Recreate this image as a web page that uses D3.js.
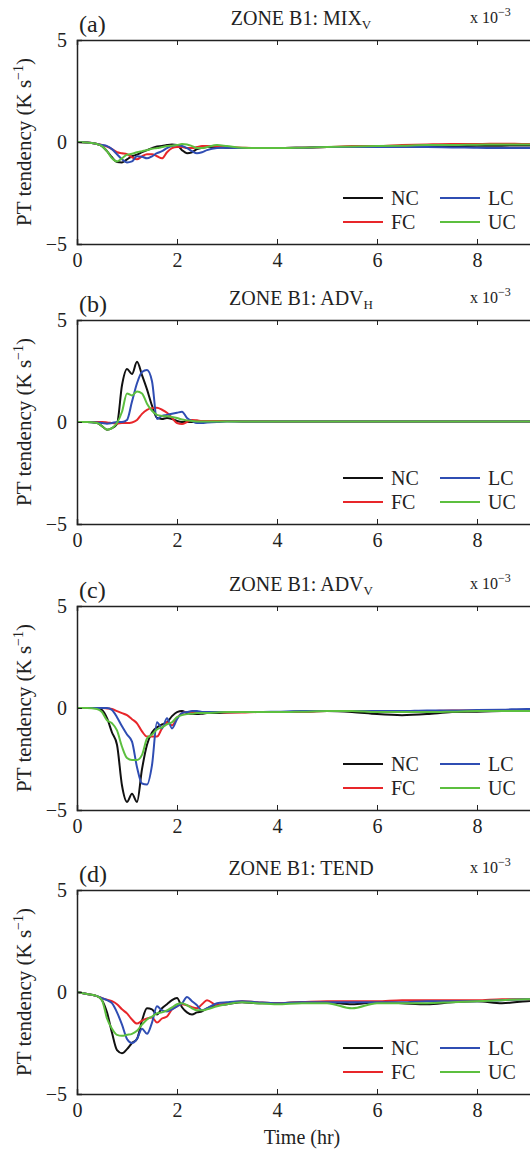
<!DOCTYPE html>
<html lang="en">

<head>
    <meta charset="UTF-8" />
    <script type="text/javascript" src="https://cdn.jsdelivr.net/npm/d3@7"></script>
    <title>Zone B1 PT tendency</title>
    <style>
        body { margin: 0; overflow: hidden; background: #fff; }
        text { font-family: "Liberation Serif", "Times New Roman", serif; fill: #222; }
    </style>
</head>

<body>
    <div id="my_dataviz"></div>

    <script type="text/javascript">
        // time axis (hr), shared by all panels
        var hours = [0, 0.2, 0.4, 0.5, 0.6, 0.7, 0.8, 0.9, 1.0, 1.1, 1.2, 1.3, 1.4, 1.5, 1.6, 1.7, 1.8, 1.9, 2.0, 2.1,
            2.2, 2.3, 2.4, 2.5, 2.6, 2.8, 3.0, 3.3, 3.6, 4.0, 4.5, 5.0, 5.5, 6.0, 6.5, 7.0, 7.5, 8.0, 8.5, 9.0, 9.5, 10];

        var seriesNames = ["NC", "FC", "LC", "UC"];
        var panelLetters = ["(a)", "(b)", "(c)", "(d)"];
        var panelTitles = ["MIX", "ADV", "ADV", "TEND"];
        var panelSubs = ["V", "H", "V", ""];
        var xTicks = [0, 2, 4, 6, 8, 10];
        var xTickLabels = [0, 2, 4, 6, 8];
        var yTicks = [-5, 0, 5];

        // values in units of 1e-3 K s-1
        var mixNC = [0, -0.03, -0.1, -0.2, -0.45, -0.75, -0.98, -1.0, -0.85, -0.7, -0.62, -0.5, -0.4, -0.3, -0.22, -0.2, -0.15, -0.12, -0.15, -0.4,
            -0.55, -0.5, -0.35, -0.28, -0.25, -0.25, -0.28, -0.3, -0.3, -0.3, -0.28, -0.25, -0.25, -0.25, -0.22, -0.2, -0.2, -0.18, -0.18, -0.17, -0.17, -0.17];
        var mixFC = [0, -0.03, -0.1, -0.15, -0.22, -0.35, -0.5, -0.55, -0.6, -0.75, -0.85, -0.7, -0.6, -0.6, -0.7, -0.8, -0.5, -0.3, -0.25, -0.25,
            -0.3, -0.3, -0.25, -0.2, -0.2, -0.22, -0.25, -0.28, -0.3, -0.3, -0.28, -0.25, -0.2, -0.2, -0.15, -0.12, -0.1, -0.1, -0.08, -0.1, -0.1, -0.1];
        var mixLC = [0, -0.03, -0.1, -0.15, -0.2, -0.35, -0.6, -0.85, -1.0, -0.95, -0.7, -0.72, -0.8, -0.7, -0.55, -0.45, -0.3, -0.2, -0.15, -0.2,
            -0.3, -0.45, -0.55, -0.5, -0.4, -0.3, -0.28, -0.3, -0.3, -0.3, -0.28, -0.25, -0.25, -0.25, -0.25, -0.25, -0.27, -0.28, -0.3, -0.3, -0.3, -0.3];
        var mixUC = [0, -0.03, -0.1, -0.2, -0.45, -0.8, -0.95, -0.8, -0.62, -0.58, -0.5, -0.45, -0.4, -0.33, -0.3, -0.25, -0.2, -0.18, -0.15, -0.1,
            -0.12, -0.2, -0.3, -0.3, -0.25, -0.15, -0.2, -0.28, -0.3, -0.3, -0.28, -0.25, -0.22, -0.2, -0.18, -0.15, -0.15, -0.13, -0.12, -0.12, -0.12, -0.12];

        var advhNC = [0, 0, -0.05, -0.2, -0.38, -0.3, -0.1, 1.8, 2.6, 2.35, 2.95, 2.3, 1.6, 0.8, 0.2, 0.15, 0.2, 0.15, 0.05, 0,
            0, 0, 0.05, 0.05, 0.05, 0.05, 0.05, 0.03, 0.02, 0.02, 0.02, 0.02, 0.02, 0.02, 0.02, 0.02, 0.02, 0.02, 0.02, 0.02, 0.02, 0.02];
        var advhFC = [0, 0, 0, 0, -0.02, -0.05, -0.08, -0.05, -0.05, -0.02, 0.1, 0.4, 0.6, 0.68, 0.7, 0.6, 0.45, 0.2, -0.05, -0.1,
            0, 0.1, 0.08, 0.05, 0.05, 0.05, 0.05, 0.04, 0.04, 0.03, 0.03, 0.03, 0.03, 0.03, 0.03, 0.03, 0.03, 0.03, 0.03, 0.03, 0.03, 0.03];
        var advhLC = [0, 0, -0.02, -0.05, -0.08, -0.05, 0, 0, 0.1, 1.0, 1.9, 2.45, 2.55, 2.0, 0.15, 0.3, 0.35, 0.4, 0.45, 0.5,
            0.2, 0.05, -0.05, -0.05, -0.03, 0, 0.02, 0.02, 0.02, 0.02, 0.02, 0.02, 0.02, 0.02, 0.02, 0.02, 0.02, 0.02, 0.02, 0.02, 0.02, 0.02];
        var advhUC = [0, 0, -0.05, -0.2, -0.38, -0.3, -0.05, 0.5, 1.4, 1.3, 1.5, 1.4, 0.9, 0.55, 0.35, 0.3, 0.28, 0.25, 0.2, 0.12,
            0.08, 0.05, 0.03, 0.02, 0.02, 0.02, 0.02, 0.02, 0.02, 0.02, 0.02, 0.02, 0.02, 0.02, 0.02, 0.02, 0.02, 0.02, 0.02, 0.02, 0.02, 0.02];

        var advvNC = [0, 0, 0, -0.1, -0.5, -1.2, -1.8, -3.8, -4.6, -4.2, -4.6, -3.0, -1.8, -1.2, -0.95, -0.8, -0.7, -0.4, -0.2, -0.15,
            -0.25, -0.3, -0.3, -0.28, -0.25, -0.25, -0.22, -0.2, -0.2, -0.2, -0.18, -0.15, -0.2, -0.3, -0.35, -0.3, -0.2, -0.18, -0.15, -0.12, -0.12, -0.12];
        var advvFC = [0, 0, 0, 0, -0.02, -0.05, -0.15, -0.25, -0.35, -0.55, -0.75, -1.15, -1.4, -1.4, -1.4, -1.0, -0.7, -0.85, -0.5, -0.25,
            -0.2, -0.2, -0.2, -0.2, -0.2, -0.2, -0.22, -0.22, -0.2, -0.2, -0.18, -0.15, -0.15, -0.15, -0.15, -0.15, -0.12, -0.12, -0.12, -0.12, -0.12, -0.12];
        var advvLC = [0, 0, 0, 0, 0, -0.1, -0.45, -0.9, -1.3, -1.65, -2.9, -3.7, -3.75, -2.8, -0.7, -1.0, -0.5, -1.0, -0.55, -0.25,
            -0.2, -0.15, -0.15, -0.2, -0.2, -0.2, -0.2, -0.2, -0.2, -0.18, -0.15, -0.15, -0.15, -0.15, -0.15, -0.12, -0.12, -0.1, -0.08, -0.05, -0.05, -0.05];
        var advvUC = [0, 0, -0.05, -0.2, -0.6, -0.75, -1.1, -1.9, -2.45, -2.55, -2.55, -2.3, -1.5, -1.3, -1.05, -0.95, -0.8, -0.7, -0.45, -0.35,
            -0.3, -0.28, -0.25, -0.25, -0.25, -0.22, -0.2, -0.2, -0.2, -0.2, -0.18, -0.15, -0.15, -0.2, -0.2, -0.2, -0.18, -0.15, -0.15, -0.15, -0.15, -0.15];

        var tendNC = [0, -0.1, -0.2, -0.4, -1.0, -2.0, -2.85, -3.0, -2.8, -2.5, -2.3, -1.4, -0.8, -0.85, -1.1, -0.8, -0.6, -0.4, -0.3, -0.75,
            -1.0, -1.1, -1.0, -0.95, -0.8, -0.65, -0.6, -0.5, -0.55, -0.55, -0.5, -0.5, -0.6, -0.5, -0.55, -0.6, -0.5, -0.45, -0.55, -0.45, -0.4, -0.4];
        var tendFC = [0, -0.1, -0.2, -0.3, -0.38, -0.45, -0.6, -0.85, -1.05, -1.35, -1.55, -1.4, -1.3, -1.25, -1.5, -1.3, -1.2, -0.85, -0.7, -0.6,
            -0.65, -0.75, -0.8, -0.6, -0.4, -0.65, -0.55, -0.45, -0.5, -0.55, -0.5, -0.45, -0.45, -0.45, -0.4, -0.4, -0.4, -0.4, -0.35, -0.35, -0.35, -0.35];
        var tendLC = [0, -0.1, -0.2, -0.3, -0.4, -0.55, -1.0, -1.6, -2.3, -2.5, -2.3, -1.8, -2.05, -1.5, -0.7, -0.9, -0.95, -0.85, -0.7, -0.55,
            -0.25, -0.45, -0.65, -0.9, -0.8, -0.55, -0.5, -0.45, -0.5, -0.55, -0.5, -0.5, -0.5, -0.5, -0.5, -0.45, -0.45, -0.45, -0.4, -0.35, -0.35, -0.35];
        var tendUC = [0, -0.1, -0.2, -0.4, -1.3, -1.8, -2.1, -2.15, -2.1, -2.05, -1.9, -1.6, -1.35, -1.2, -1.05, -1.0, -0.9, -0.75, -0.6, -0.55,
            -0.65, -0.8, -0.9, -0.9, -0.85, -0.7, -0.6, -0.5, -0.55, -0.6, -0.55, -0.55, -0.8, -0.55, -0.55, -0.55, -0.5, -0.45, -0.4, -0.35, -0.35, -0.35];

        var panelData = [
            { NC: mixNC, FC: mixFC, LC: mixLC, UC: mixUC },
            { NC: advhNC, FC: advhFC, LC: advhLC, UC: advhUC },
            { NC: advvNC, FC: advvFC, LC: advvLC, UC: advvUC },
            { NC: tendNC, FC: tendFC, LC: tendLC, UC: tendUC }
        ];

        var color = d3.scaleOrdinal()
            .domain(seriesNames)
            .range(["#111111", "#e8262a", "#2f4db3", "#5cbf3f"]);

        var panelTops = [40, 320, 606, 890];
        var left = 77, plotW = 500, plotH = 204;

        var svg = d3.select("#my_dataviz")
            .append("svg")
            .attr("width", 530)
            .attr("height", 1150);

        var x = d3.scaleLinear().domain([0, 10]).range([0, plotW]);
        var y = d3.scaleLinear().domain([-5, 5]).range([plotH, 0]);

        for (var p = 0; p < 4; p++) {
            var g = svg.append("g")
                .attr("transform", `translate(${left}, ${panelTops[p]})`);

            g.append("clipPath").attr("id", "clip" + p)
                .append("rect").attr("width", plotW).attr("height", plotH);

            // lines
            var line = d3.line()
                .x(function (d) { return x(d[0]); })
                .y(function (d) { return y(d[1]); })
                .curve(d3.curveMonotoneX);

            var lines = g.append("g").attr("clip-path", "url(#clip" + p + ")");
            seriesNames.forEach(function (name) {
                var vals = panelData[p][name];
                lines.append("path")
                    .datum(hours.map(function (h, i) { return [h, vals[i]]; }))
                    .attr("fill", "none")
                    .attr("stroke", color(name))
                    .attr("stroke-width", 2)
                    .attr("stroke-linejoin", "round")
                    .attr("d", line);
            });

            // axes (matlab style, ticks inside)
            var xb = g.append("g").attr("transform", `translate(0, ${plotH})`)
                .call(d3.axisBottom(x).tickValues(xTicks).tickSize(-5).tickPadding(9)
                    .tickFormat(function (d) { return xTickLabels.indexOf(d) >= 0 ? d : ""; }));
            var xt = g.append("g")
                .call(d3.axisTop(x).tickValues(xTicks).tickSize(-5).tickFormat(""));
            var yl = g.append("g")
                .call(d3.axisLeft(y).tickValues(yTicks).tickSize(-5).tickPadding(10).tickFormat(function (d) { return d < 0 ? "\u2212" + Math.abs(d) : d; }));

            [xb, xt, yl].forEach(function (a) {
                a.select(".domain").attr("stroke", "#222").attr("stroke-width", 1.5);
                a.selectAll(".tick line").attr("stroke", "#222");
                a.selectAll("text").style("font-family", "Liberation Serif").style("font-size", "20px").attr("fill", "#222");
            });

            // labels
            g.append("text")
                .attr("x", 2).attr("y", -8)
                .style("font-size", "24px")
                .text(panelLetters[p]);

            var title = g.append("text")
                .attr("x", 301 - left).attr("y", -15)
                .attr("text-anchor", "middle")
                .style("font-size", "20px")
                .text("ZONE B1: " + panelTitles[p]);
            if (panelSubs[p]) {
                title.append("tspan").attr("dy", 4).style("font-size", "13px").text(panelSubs[p]);
            }

            var mult = g.append("text")
                .attr("x", 470 - left).attr("y", -17)
                .style("font-size", "16px")
                .text("x 10");
            mult.append("tspan").attr("dy", -7).style("font-size", "12px").text("\u22123");

            var ylab = g.append("text")
                .attr("transform", `translate(${31 - left}, ${plotH / 2}) rotate(-90)`)
                .attr("text-anchor", "middle")
                .style("font-size", "21px")
                .text("PT tendency (K s");
            ylab.append("tspan").attr("dy", -8).style("font-size", "14px").text("\u22121");
            ylab.append("tspan").attr("dy", 8).text(")");

            // legend, two columns
            var legendPos = [[266, 158], [266, 182], [363, 158], [363, 182]];
            var legendOrder = ["NC", "FC", "LC", "UC"];
            var legend = g.selectAll(".legend")
                .data(legendOrder)
                .enter().append("g")
                .attr("class", "legend")
                .attr("transform", function (d, i) { return "translate(" + legendPos[i][0] + "," + legendPos[i][1] + ")"; });

            legend.append("line")
                .attr("x1", 0).attr("x2", 40)
                .attr("stroke", function (d) { return color(d); })
                .attr("stroke-width", 2);

            legend.append("text")
                .attr("x", 48).attr("y", 7)
                .style("font-size", "20px")
                .text(function (d) { return d; });
        }

        svg.append("text")
            .attr("x", 302).attr("y", 1144)
            .attr("text-anchor", "middle")
            .style("font-size", "20px")
            .text("Time (hr)");
    </script>
</body>

</html>
